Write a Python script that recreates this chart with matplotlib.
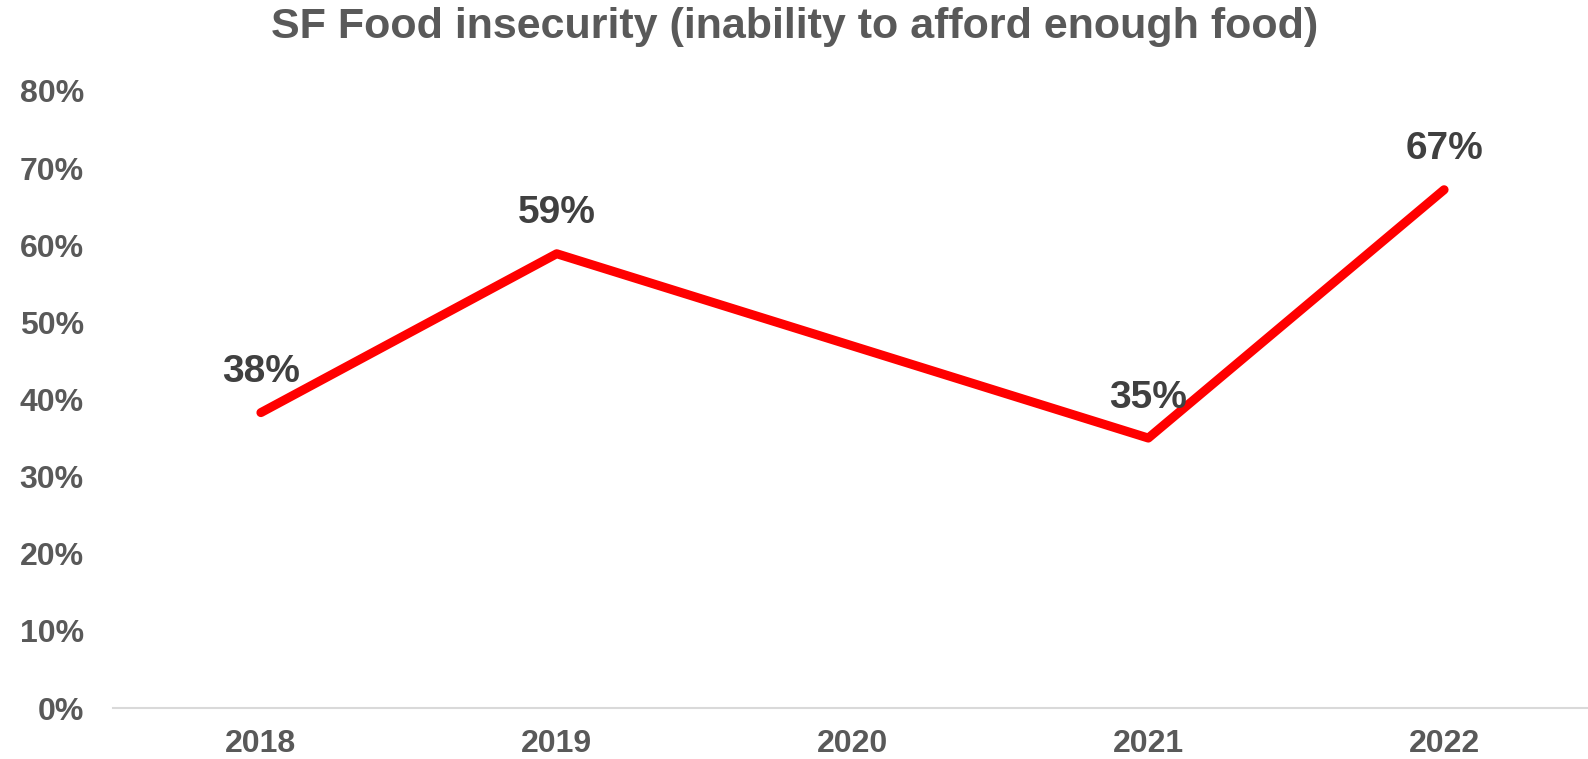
import matplotlib
matplotlib.use("Agg")
import matplotlib.pyplot as plt
import numpy as np

plt.rcParams['font.family'] = ['Liberation Sans', 'DejaVu Sans']

years = ["2018", "2019", "2020", "2021", "2022"]
values = [38.3, 58.9, None, 35.0, 67.2]   # percent; 2020 missing
labels = ["38%", "59%", None, "35%", "67%"]
yticks = [0, 10, 20, 30, 40, 50, 60, 70, 80]

fig = plt.figure(figsize=(15.88, 7.59), dpi=100)
ax = fig.add_axes([113/1588, 51/759, 1479/1588, 617/759])

xs = [i for i, v in enumerate(values) if v is not None]
ys = [v for v in values if v is not None]
ax.plot(xs, ys, color="#FF0000", lw=6.5, solid_capstyle="round", solid_joinstyle="round", zorder=3)

for i, (v, lab) in enumerate(zip(values, labels)):
    if v is None:
        continue
    ax.annotate(lab, (i, v), xytext=(0, 29), textcoords="offset points",
                ha="center", va="center", fontsize=28, fontweight="bold",
                color="#404040", zorder=4)

ax.set_xlim(-0.5, 4.5)
ax.set_ylim(0, 80)
ax.set_xticks(range(len(years)))
ax.set_xticklabels(years)
ax.set_yticks(yticks)
ax.set_yticklabels([f"{t}%" for t in yticks])
for lab in ax.get_xticklabels() + ax.get_yticklabels():
    lab.set_fontweight("bold")
    lab.set_fontsize(23)
    lab.set_color("#595959")
ax.tick_params(axis="both", length=0)
ax.tick_params(axis="y", pad=21)
ax.tick_params(axis="x", pad=15)

for s in ["top", "right", "left"]:
    ax.spines[s].set_visible(False)
ax.spines["bottom"].set_color("#D9D9D9")
ax.spines["bottom"].set_linewidth(1.5)
ax.set_facecolor("white")

fig.text(795/1588, 1 - 27/759, "SF Food insecurity (inability to afford enough food)",
         ha="center", va="center", fontsize=31, fontweight="bold", color="#595959")

fig.savefig("out.png", dpi=100, facecolor="white")
